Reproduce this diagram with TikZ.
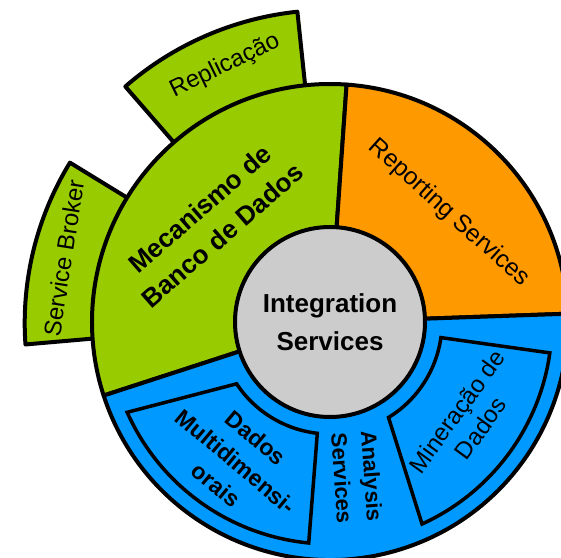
\documentclass[tikz,border=0pt]{standalone}
\usepackage{fontspec}
\setmainfont{Liberation Sans}
\usepackage{tkz-euclide}

\definecolor{verde}{HTML}{99CC00}
\definecolor{laranja}{HTML}{FF9900}
\definecolor{azul}{HTML}{0099FF}
\definecolor{cinza}{HTML}{CCCCCC}

\tikzset{
  ring/.style={draw, line width=4pt, line join=round},
  tab/.style={ring, fill=verde},
  box/.style={draw, line width=3.5pt, line join=miter, fill=azul},
  lbl/.style={align=center, inner sep=0pt, font=\fontsize{24}{30}\selectfont},
}

\begin{document}
\begin{tikzpicture}[x=1pt,y=1pt]
\useasboundingbox (-330,-235) rectangle (231,322);
\tkzDefPoint(0,0){O}
\draw[tab] (96:238) -- (96:312) arc[start angle=96, end angle=131, radius=312] -- (131:238) -- cycle;
\draw[tab] (148.5:238) -- (148.5:305) arc[start angle=148.5, end angle=184, radius=307] -- (184:238) -- cycle;
\draw[ring, fill=verde] (O) -- (86:238) arc[start angle=86, end angle=198, radius=238] -- cycle;
\draw[ring, fill=laranja] (O) -- (2:238) arc[start angle=2, end angle=86, radius=238] -- cycle;
\draw[ring, fill=azul] (O) -- (198:238) arc[start angle=198, end angle=362, radius=238] -- cycle;
\draw[box] (204:222) -- (213.5:112) arc[start angle=213.5, end angle=263.5, radius=112]
  -- (264.5:222) arc[start angle=264.5, end angle=204, radius=222] -- cycle;
\draw[box] (-8:112) -- (-8:222) arc[start angle=-8, end angle=-65.5, radius=222]
  -- (-58.5:112) arc[start angle=-58.5, end angle=-8, radius=112] -- cycle;
\draw[ring, fill=cinza] (O) circle[radius=95];
\node[lbl, font=\fontsize{26}{38}\selectfont\bfseries] (integ) at (O) {Integration\\Services};
\node[lbl, font=\fontsize{26}{35}\selectfont\bfseries, rotate=41] (mecan) at (-119,100) {Mecanismo de\\Banco de Dados};
\node[lbl, font=\fontsize{24.5}{30}\selectfont, rotate=-42] (report) at (119,109) {Reporting Services};
\node[lbl, rotate=26] (replic) at (-105,256) {Replicação};
\node[lbl, rotate=81] (broker) at (-266,64) {Service Broker};
\node[lbl, font=\fontsize{23}{31}\selectfont\bfseries, rotate=-40] (multi) at (-94,-139.5) {Dados\\Multidimensi-\\orais};
\node[lbl, font=\fontsize{22}{30}\selectfont\bfseries, rotate=-86] (analysis) at (27,-155) {Analysis\\Services};
\node[lbl, font=\fontsize{24}{29}\selectfont, rotate=54] (minera) at (138.7,-97.7) {Mineração de\\Dados};
\end{tikzpicture}
\end{document}
